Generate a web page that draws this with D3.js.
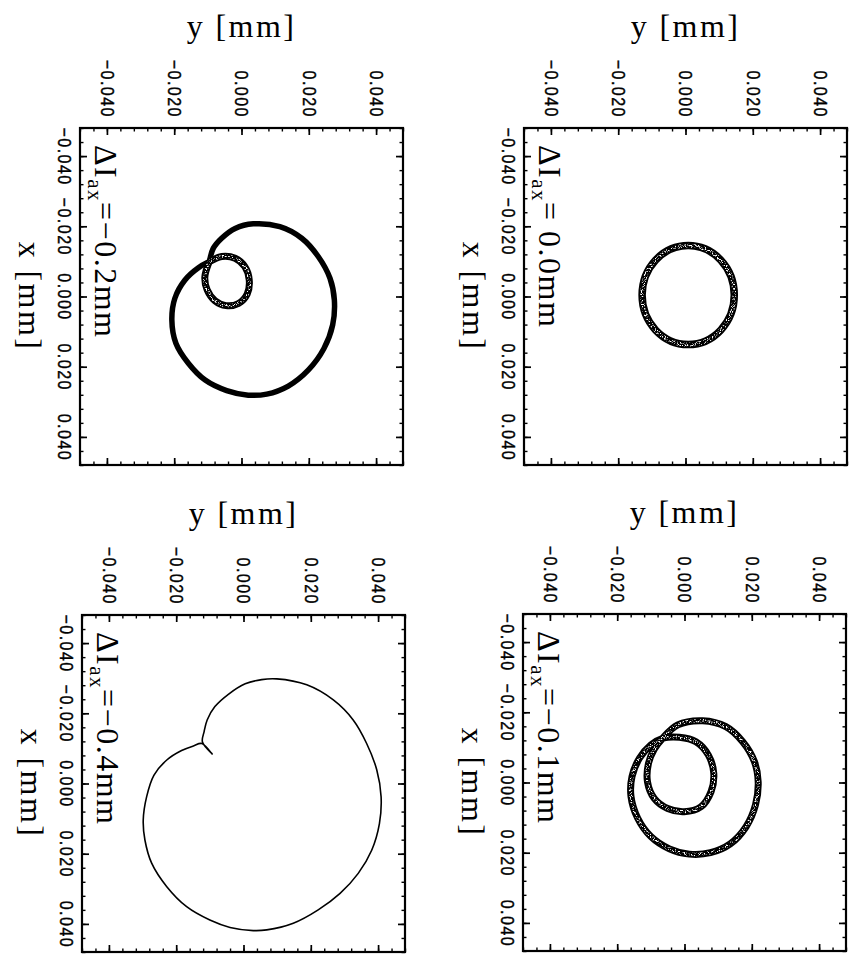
<!DOCTYPE html>
<html>
<head>
<meta charset="utf-8">
<script src="https://cdn.jsdelivr.net/npm/d3@7"></script>
<style>
  html, body { margin: 0; padding: 0; background: #fff; }
  svg { display: block; }
</style>
</head>
<body>
<svg id="fig" width="849" height="955"></svg>
<script>
// ---- axis ticks (mm) ----
const majorTicks = [-0.040, -0.020, 0.000, 0.020, 0.040];
const minorTicks = [-0.048, -0.044, -0.040, -0.036, -0.032, -0.028, -0.024, -0.020, -0.016,
  -0.012, -0.008, -0.004, 0.000, 0.004, 0.008, 0.012, 0.016, 0.020, 0.024, 0.028, 0.032,
  0.036, 0.040, 0.044, 0.048];
const axisDomain = [-0.048, 0.048];
const axisTitleH = "y [mm]";
const axisTitleV = "x [mm]";
// axial current offset of each panel (mm)
const offsetValues = [-0.2, 0.0, -0.4, -0.1];

// ---- orbit traces, points given as [y, x] in mm ----
// ΔI = -0.2 mm : large loop starting at the crossing point, then the small loop
const outer02 = [
  [-0.0096, -0.0099], [-0.0084, -0.0137], [-0.0059, -0.0166], [-0.0019, -0.0194],
  [0.0035, -0.0207], [0.0114, -0.0199], [0.0179, -0.0166], [0.0228, -0.0114],
  [0.0263, -0.0052], [0.0276, 0.0010], [0.0271, 0.0081], [0.0245, 0.0148],
  [0.0199, 0.0209], [0.0139, 0.0255], [0.0075, 0.0278], [0.0020, 0.0281],
  [-0.0044, 0.0268], [-0.0108, 0.0238], [-0.0158, 0.0190], [-0.0195, 0.0133],
  [-0.0207, 0.0067], [-0.0198, 0.0005], [-0.0168, -0.0047], [-0.0128, -0.0082]
];
const inner02 = [
  [-0.0096, -0.0099], [-0.0059, -0.0114], [-0.0019, -0.0109], [0.0010, -0.0085],
  [0.0023, -0.0047], [0.0017, -0.0007], [-0.0009, 0.0020], [-0.0046, 0.0026],
  [-0.0079, 0.0012], [-0.0102, -0.0019], [-0.0109, -0.0055]
];
// ΔI = 0.0 mm : single ring, centre and semi-axes [y, x]
const ring00Center = [0.0008, -0.0004];
const ring00Radius = [0.0137, 0.0141];
// ΔI = -0.4 mm : cardioid-like trace with its cusp
const cardioid04 = [
  [0.0099, -0.0298], [0.0188, -0.0281], [0.0267, -0.0238], [0.0326, -0.0181],
  [0.0366, -0.0114], [0.0396, -0.0039], [0.0409, 0.0038], [0.0404, 0.0114],
  [0.0381, 0.0190], [0.0341, 0.0256], [0.0287, 0.0313], [0.0222, 0.0360],
  [0.0148, 0.0398], [0.0069, 0.0417], [0.0029, 0.0419], [-0.0040, 0.0410],
  [-0.0100, 0.0389], [-0.0169, 0.0351], [-0.0228, 0.0294], [-0.0273, 0.0227],
  [-0.0293, 0.0161], [-0.0298, 0.0104], [-0.0288, 0.0038], [-0.0266, -0.0024],
  [-0.0228, -0.0067], [-0.0184, -0.0094], [-0.0149, -0.0107], [-0.0124, -0.0114],
  [-0.0093, -0.0084], [-0.0122, -0.0118], [-0.0117, -0.0148], [-0.0108, -0.0181],
  [-0.0085, -0.0219], [-0.0045, -0.0254], [0.0005, -0.0284], [0.0054, -0.0296]
];
// ΔI = -0.1 mm : large loop and inner loop
const outer01 = [
  [-0.0065, -0.0126], [-0.0020, -0.0164], [0.0054, -0.0176], [0.0123, -0.0159],
  [0.0173, -0.0116], [0.0208, -0.0059], [0.0219, -0.0002], [0.0211, 0.0064],
  [0.0183, 0.0126], [0.0136, 0.0175], [0.0077, 0.0200], [0.0014, 0.0204],
  [-0.0045, 0.0189], [-0.0100, 0.0154], [-0.0139, 0.0102], [-0.0159, 0.0040],
  [-0.0156, -0.0017], [-0.0134, -0.0069], [-0.0100, -0.0107]
];
const inner01 = [
  [-0.0065, -0.0126], [-0.0015, -0.0129], [0.0034, -0.0116], [0.0071, -0.0078],
  [0.0087, -0.0026], [0.0079, 0.0026], [0.0049, 0.0069], [-0.0001, 0.0083],
  [-0.0050, 0.0074], [-0.0090, 0.0045], [-0.0110, -0.0002], [-0.0107, -0.0055],
  [-0.0090, -0.0095]
];

// ---- layout ----
const W = 323, H = 337;
const serif = "'Liberation Serif', 'DejaVu Serif', serif";
const tickFont = "'Liberation Sans', Arial, sans-serif";

const svg = d3.select("#fig");
svg.append("rect").attr("width", 849).attr("height", 955).attr("fill", "#fff");

// speckled interior for the wide, many-turn bands
const defs = svg.append("defs");
const grain = defs.append("filter").attr("id", "grain")
  .attr("filterUnits", "userSpaceOnUse")
  .attr("x", 0).attr("y", 0).attr("width", 849).attr("height", 955);
grain.append("feTurbulence").attr("type", "fractalNoise")
  .attr("baseFrequency", 0.8).attr("numOctaves", 2).attr("seed", 7).attr("result", "n");
grain.append("feColorMatrix").attr("in", "n").attr("type", "matrix")
  .attr("values", "0 0 0 0 1  0 0 0 0 1  0 0 0 0 1  6 0 0 0 -3.0").attr("result", "m");
grain.append("feComposite").attr("in", "m").attr("in2", "SourceGraphic").attr("operator", "in");

const sx = d3.scaleLinear().domain(axisDomain).range([0, W]);
const sy = d3.scaleLinear().domain(axisDomain).range([0, H]);
const closed = d3.line().x(d => sx(d[0])).y(d => sy(d[1])).curve(d3.curveCatmullRomClosed.alpha(0.5));
const open = d3.line().x(d => sx(d[0])).y(d => sy(d[1])).curve(d3.curveCatmullRom.alpha(0.5));
const fmt = d3.format(".3f");

function band(g, pathD, width) {
  g.append("path").attr("d", pathD).attr("fill", "none")
    .attr("stroke", "#000").attr("stroke-width", width).attr("stroke-linejoin", "round");
}
function speckle(g, pathD, width) {
  g.append("path").attr("d", pathD).attr("fill", "none")
    .attr("stroke", "#fff").attr("stroke-width", width).attr("filter", "url(#grain)");
}

function drawM02(g) {
  band(g, closed(outer02.concat(inner02)), 5.5);
  const loop = inner02.concat([inner02[0]]);
  band(g, open(loop), 7);
  speckle(g, open(loop), 3.4);
}
function drawM00(g) {
  const ring = () => g.append("ellipse")
    .attr("cx", sx(ring00Center[0])).attr("cy", sy(ring00Center[1]))
    .attr("rx", sx(ring00Radius[0]) - sx(0)).attr("ry", sy(ring00Radius[1]) - sy(0))
    .attr("fill", "none");
  ring().attr("stroke", "#000").attr("stroke-width", 7.5);
  ring().attr("stroke", "#fff").attr("stroke-width", 3.8).attr("filter", "url(#grain)");
}
function drawM04(g) {
  g.append("path").attr("d", closed(cardioid04)).attr("fill", "none")
    .attr("stroke", "#000").attr("stroke-width", 1.6).attr("stroke-linejoin", "round");
}
function drawM01(g) {
  const d = closed(outer01.concat(inner01));
  band(g, d, 7);
  speckle(g, d, 3.4);
}

const panels = [
  { left: 80, top: 128, value: offsetValues[0], draw: drawM02 },
  { left: 524, top: 128, value: offsetValues[1], draw: drawM00 },
  { left: 82, top: 615, value: offsetValues[2], draw: drawM04 },
  { left: 523, top: 614, value: offsetValues[3], draw: drawM01 }
];

panels.forEach(p => {
  const g = svg.append("g").attr("transform", `translate(${p.left},${p.top})`);

  // minor ticks on all four sides, pointing inward
  const minor = [
    [d3.axisTop(sx), null],
    [d3.axisBottom(sx), `translate(0,${H})`],
    [d3.axisLeft(sy), null],
    [d3.axisRight(sy), `translate(${W},0)`]
  ];
  minor.forEach(([ax, tr]) => {
    const a = g.append("g").attr("transform", tr)
      .call(ax.tickValues(minorTicks).tickSizeInner(-3.5).tickSizeOuter(0).tickFormat(""));
    a.selectAll("line").attr("stroke-width", 1.4);
  });
  // major ticks
  const majTop = g.append("g")
    .call(d3.axisTop(sx).tickValues(majorTicks).tickSizeInner(-7).tickSizeOuter(0).tickFormat(fmt));
  const majBot = g.append("g").attr("transform", `translate(0,${H})`)
    .call(d3.axisBottom(sx).tickValues(majorTicks).tickSizeInner(-7).tickSizeOuter(0).tickFormat(""));
  const majLeft = g.append("g")
    .call(d3.axisLeft(sy).tickValues(majorTicks).tickSizeInner(-7).tickSizeOuter(0).tickFormat(fmt));
  const majRight = g.append("g").attr("transform", `translate(${W},0)`)
    .call(d3.axisRight(sy).tickValues(majorTicks).tickSizeInner(-7).tickSizeOuter(0).tickFormat(""));
  [majTop, majBot, majLeft, majRight].forEach(a => a.selectAll("line").attr("stroke-width", 1.7));
  [majTop, majLeft].forEach(a => a.attr("font-family", tickFont).attr("font-size", 16));

  majTop.selectAll("text")
    .attr("x", 0).attr("y", 0).attr("dy", "0.36em")
    .attr("text-anchor", "end").attr("letter-spacing", 1.5)
    .attr("transform", "translate(0,-10) rotate(90) scale(1,1.14)")
    .attr("fill", "#000").attr("stroke", "#000").attr("stroke-width", 0.35);
  majLeft.selectAll("text")
    .attr("x", 0).attr("y", 0).attr("dy", "0.36em")
    .attr("text-anchor", "middle").attr("letter-spacing", 1.5)
    .attr("transform", "translate(-15,0) rotate(90) scale(1,1.14)")
    .attr("fill", "#000").attr("stroke", "#000").attr("stroke-width", 0.35);
  g.selectAll(".domain").remove();

  // frame
  g.append("rect").attr("width", W).attr("height", H)
    .attr("fill", "none").attr("stroke", "#000").attr("stroke-width", 2.2);

  // axis titles
  g.append("text").attr("x", W / 2).attr("y", -91)
    .attr("text-anchor", "middle").attr("font-family", serif).attr("font-size", 32)
    .attr("letter-spacing", 2.4).text(axisTitleH);
  g.append("text").attr("transform", `translate(-61,${H / 2}) rotate(90)`)
    .attr("text-anchor", "middle").attr("font-family", serif).attr("font-size", 32)
    .attr("letter-spacing", 2.4).text(axisTitleV);

  // panel annotation  ΔI_ax = value mm
  const t = g.append("text").attr("transform", "translate(15,17) rotate(90)")
    .attr("font-family", serif).attr("font-size", 32).attr("letter-spacing", 1.5);
  t.append("tspan").text("ΔI");
  t.append("tspan").attr("font-size", 21).attr("dy", 7).text("ax");
  t.append("tspan").attr("dy", -7).text("=");
  const v = p.value < 0 ? "\u2212" + Math.abs(p.value).toFixed(1) : "\u00a0" + p.value.toFixed(1);
  t.append("tspan").text(v + "mm");

  p.draw(g);
});
</script>
</body>
</html>
